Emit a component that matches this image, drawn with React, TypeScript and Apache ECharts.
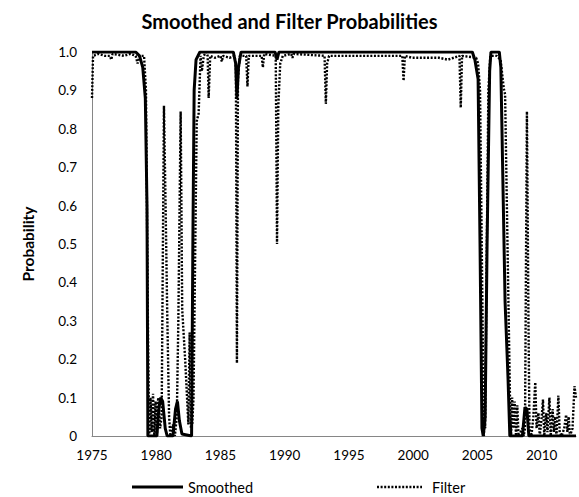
import React, { useEffect, useRef } from "react";
import * as echarts from "echarts";

const titleText = "Smoothed and Filter Probabilities";
const yAxisName = "Probability";
const seriesNames = ["Smoothed", "Filter"];
const xMin = 1975;
const xMax = 2012.67;
const xInterval = 5;

const smoothed: [number, number][] = [
  [1975.0, 1.0], [1978.4, 1.0], [1978.7, 0.99], [1978.95, 0.96], [1979.15, 0.88],
  [1979.28, 0.6], [1979.35, 0.0], [1980.05, 0.0], [1980.2, 0.07], [1980.35, 0.1],
  [1980.5, 0.09], [1980.7, 0.02], [1980.85, 0.0], [1981.3, 0.0], [1981.5, 0.07],
  [1981.65, 0.09], [1981.8, 0.04], [1982.0, 0.005], [1982.75, 0.0], [1982.85, 0.5],
  [1982.95, 0.9], [1983.1, 0.98], [1983.4, 1.0], [1986.0, 1.0], [1986.18, 0.97],
  [1986.28, 0.88], [1986.4, 0.96], [1986.6, 1.0], [1989.25, 1.0], [1989.4, 0.98],
  [1989.55, 1.0], [2004.6, 1.0], [2004.8, 0.98], [2005.05, 0.93], [2005.2, 0.5],
  [2005.35, 0.02], [2005.45, 0.0], [2005.6, 0.05], [2005.75, 0.5], [2005.95, 0.95],
  [2006.05, 1.0], [2006.7, 1.0], [2006.82, 0.96], [2007.15, 0.35], [2007.38, 0.15],
  [2007.52, 0.0], [2008.5, 0.0], [2008.7, 0.075], [2008.85, 0.07], [2009.0, 0.0],
  [2012.67, 0.0],
];

const filter: [number, number][] = [
  [1975.0, 0.88], [1975.08, 0.99], [1975.5, 0.995], [1976.0, 0.99], [1976.4, 0.99],
  [1976.5, 0.98], [1976.6, 0.995], [1977.5, 0.99], [1978.0, 0.995], [1978.4, 0.99],
  [1978.55, 0.97], [1978.7, 0.99], [1979.05, 0.99], [1979.2, 0.9], [1979.35, 0.3],
  [1979.45, 0.0], [1979.55, 0.1], [1979.65, 0.01], [1979.75, 0.11], [1979.85, 0.0],
  [1979.95, 0.09], [1980.05, 0.0], [1980.15, 0.1], [1980.3, 0.02], [1980.42, 0.05],
  [1980.6, 0.86], [1980.75, 0.55], [1980.85, 0.33], [1981.0, 0.05], [1981.1, 0.0],
  [1981.3, 0.03], [1981.45, 0.0], [1981.6, 0.05], [1981.72, 0.3], [1981.9, 0.845],
  [1982.02, 0.33], [1982.25, 0.2], [1982.5, 0.03], [1982.6, 0.27], [1982.7, 0.02],
  [1982.8, 0.03], [1982.9, 0.1], [1983.15, 0.82], [1983.3, 0.84], [1983.45, 0.99],
  [1983.55, 0.95], [1983.7, 0.99], [1983.9, 1.0], [1984.0, 0.99], [1984.08, 0.88],
  [1984.2, 0.99], [1984.55, 0.985], [1985.0, 0.99], [1985.1, 0.975], [1985.2, 0.99],
  [1985.7, 0.985], [1986.1, 0.99], [1986.2, 0.96], [1986.28, 0.19], [1986.36, 0.93],
  [1986.5, 0.99], [1987.0, 0.99], [1987.1, 0.91], [1987.2, 0.99], [1988.2, 0.99],
  [1988.3, 0.96], [1988.4, 0.995], [1989.3, 0.99], [1989.4, 0.5], [1989.5, 0.86],
  [1989.65, 0.97], [1989.85, 0.99], [1990.5, 0.995], [1990.6, 0.985], [1990.7, 0.995],
  [1993.1, 0.99], [1993.2, 0.865], [1993.3, 0.97], [1993.45, 0.99], [1995.6, 0.99],
  [1999.15, 0.99], [1999.25, 0.925], [1999.35, 0.99], [1999.9, 0.985], [2002.0, 0.985],
  [2002.7, 0.98], [2003.6, 0.99], [2003.7, 0.855], [2003.8, 0.99], [2004.9, 0.985],
  [2005.05, 0.97], [2005.2, 0.9], [2005.4, 0.3], [2005.5, 0.0], [2005.55, 0.08],
  [2005.6, 0.02], [2005.7, 0.4], [2005.85, 0.9], [2006.0, 0.99], [2006.5, 0.99],
  [2006.8, 0.98], [2007.05, 0.905], [2007.15, 0.89], [2007.55, 0.06], [2007.62, 0.0],
  [2007.7, 0.1], [2007.8, 0.02], [2007.9, 0.09], [2008.0, 0.0], [2008.1, 0.08],
  [2008.2, 0.0], [2008.5, 0.02], [2008.6, 0.0], [2008.7, 0.02], [2008.85, 0.845],
  [2008.97, 0.3], [2009.05, 0.02], [2009.2, 0.0], [2009.35, 0.05], [2009.5, 0.14],
  [2009.6, 0.02], [2009.75, 0.06], [2009.85, 0.0], [2010.0, 0.05], [2010.1, 0.095],
  [2010.2, 0.0], [2010.35, 0.06], [2010.45, 0.01], [2010.6, 0.1], [2010.7, 0.0],
  [2010.85, 0.07], [2010.95, 0.01], [2011.05, 0.05], [2011.15, 0.0], [2011.3, 0.105],
  [2011.4, 0.01], [2011.55, 0.0], [2011.75, 0.02], [2011.9, 0.055], [2012.0, 0.01],
  [2012.1, 0.05], [2012.2, 0.0], [2012.4, 0.02], [2012.55, 0.13], [2012.67, 0.1],
];

const FONT = "Lato, 'Liberation Sans', sans-serif";
const DOT: number[] = [2, 1.6];

export default function App() {
  const ref = useRef<HTMLDivElement>(null);
  useEffect(() => {
    document.body.style.margin = "0";
    if (!ref.current) return;
    const chart = echarts.init(ref.current, null, { renderer: "svg" });
    chart.setOption({
      animation: false,
      backgroundColor: "#ffffff",
      title: {
        text: titleText,
        left: "center",
        top: 6,
        textStyle: { fontFamily: FONT, fontSize: 20, fontWeight: "bold", color: "#000" },
      },
      legend: { show: false },
      graphic: [
        {
          type: "line",
          shape: { x1: 132, y1: 487, x2: 183, y2: 487 },
          style: { stroke: "#000", lineWidth: 3 },
        },
        {
          type: "text",
          x: 188,
          y: 487,
          style: {
            text: seriesNames[0],
            fontFamily: FONT,
            fontSize: 14.5,
            fill: "#000",
            verticalAlign: "middle",
          },
        },
        {
          type: "line",
          shape: { x1: 377, y1: 487, x2: 422, y2: 487 },
          style: { stroke: "#000", lineWidth: 2.4, lineDash: DOT },
        },
        {
          type: "text",
          x: 432,
          y: 487,
          style: {
            text: seriesNames[1],
            fontFamily: FONT,
            fontSize: 14.5,
            fill: "#000",
            verticalAlign: "middle",
          },
        },
      ],
      grid: { left: 92, right: 1, top: 52, bottom: 61, containLabel: false },
      xAxis: {
        type: "value",
        min: xMin,
        max: xMax,
        interval: xInterval,
        splitLine: { show: false },
        axisTick: { show: false },
        axisLine: { lineStyle: { color: "#868686", width: 1 } },
        axisLabel: {
          fontFamily: FONT,
          fontSize: 13.5,
          color: "#000",
          margin: 12,
          formatter: (v: number) => (Math.abs(v % 5) < 1e-6 ? String(v) : ""),
        },
      },
      yAxis: {
        type: "value",
        min: 0,
        max: 1,
        interval: 0.1,
        name: yAxisName,
        nameLocation: "middle",
        nameGap: 56,
        nameTextStyle: { fontFamily: FONT, fontSize: 15.5, fontWeight: "bold", color: "#000" },
        splitLine: { show: false },
        axisTick: { show: false },
        axisLine: { show: true, lineStyle: { color: "#868686", width: 1 } },
        axisLabel: {
          fontFamily: FONT,
          fontSize: 13.5,
          color: "#000",
          margin: 15,
          formatter: (v: number) => (v === 0 ? "0" : v.toFixed(1)),
        },
      },
      series: [
        {
          name: seriesNames[1],
          type: "line",
          data: filter,
          symbol: "none",
          z: 2,
          lineStyle: { color: "#000", width: 2.4, type: DOT },
          itemStyle: { color: "#000" },
        },
        {
          name: seriesNames[0],
          type: "line",
          data: smoothed,
          symbol: "none",
          z: 3,
          lineStyle: { color: "#000", width: 3 },
          itemStyle: { color: "#000" },
        },
      ],
    });
    return () => chart.dispose();
  }, []);
  return <div ref={ref} style={{ width: 579, height: 497 }} />;
}
